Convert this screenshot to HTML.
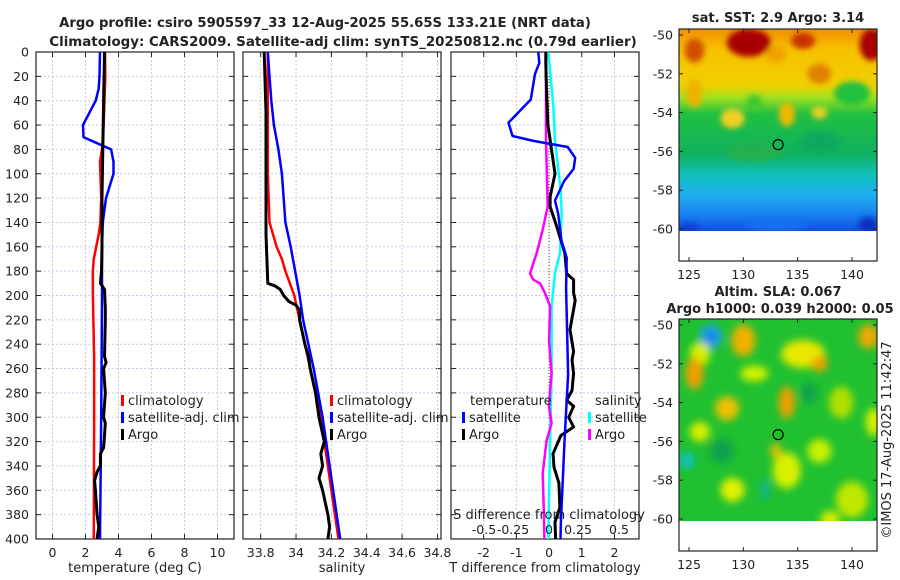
<!DOCTYPE html>
<html><head><meta charset="utf-8"><style>
body{margin:0;background:#fff}
svg{display:block;font-family:"DejaVu Sans","Liberation Sans",sans-serif}
</style></head><body>
<svg id="fig" width="900" height="580" viewBox="0 0 900 580" xmlns="http://www.w3.org/2000/svg">
<defs>
<filter id="blur1" x="-20%" y="-20%" width="140%" height="140%"><feGaussianBlur stdDeviation="3"/></filter>
<filter id="blur2" x="-20%" y="-20%" width="140%" height="140%"><feGaussianBlur stdDeviation="4"/></filter>
<clipPath id="cm1"><rect x="679" y="29" width="198" height="202"/></clipPath>
<clipPath id="cm2"><rect x="679" y="319" width="198" height="202"/></clipPath>
<linearGradient id="sstg" x1="0" y1="0" x2="0" y2="1">
<stop offset="0" stop-color="#f09000"/><stop offset="0.1" stop-color="#f8c000"/>
<stop offset="0.28" stop-color="#f0d000"/><stop offset="0.34" stop-color="#a0e020"/>
<stop offset="0.42" stop-color="#20c040"/><stop offset="0.62" stop-color="#10b060"/>
<stop offset="0.72" stop-color="#10c0b8"/><stop offset="0.82" stop-color="#20b0f0"/>
<stop offset="0.92" stop-color="#1880f0"/><stop offset="1" stop-color="#1050e0"/>
</linearGradient>
</defs>
<g id="root"></g>
</svg>
<script>
const tClimDepth=[0,20,40,60,80,90,100,120,140,150,160,170,180,200,250,300,400];
const tClimVal=[3.18,3.2,3.15,3.1,3.0,2.88,2.9,2.95,2.9,2.8,2.65,2.5,2.44,2.45,2.52,2.52,2.5];
const tSatDepth=[0,20,30,40,60,70,80,90,100,120,140,160,200,300,400];
const tSatVal=[2.88,2.85,2.8,2.62,1.85,1.88,3.55,3.7,3.7,3.24,3.05,3.0,3.0,2.95,2.88];
const tArgoDepth=[0,40,80,120,160,180,190,195,210,220,250,255,260,280,300,305,315,325,330,340,345,352,360,380,390,400];
const tArgoVal=[3.15,3.1,3.05,3.0,3.0,2.97,2.9,3.15,3.2,3.2,3.15,3.25,3.1,3.2,3.1,3.2,3.15,3.1,2.9,2.9,2.7,2.55,2.6,2.7,2.8,2.7];
const sClimDepth=[0,100,140,150,160,170,180,200,220,260,300,350,400];
const sClimVal=[33.84,33.84,33.85,33.87,33.89,33.92,33.94,33.99,34.02,34.08,34.14,34.19,34.24];
const sSatDepth=[0,20,40,60,80,100,140,160,200,220,260,300,400];
const sSatVal=[33.84,33.85,33.86,33.875,33.9,33.92,33.94,33.97,34.02,34.04,34.1,34.15,34.25];
const sArgoDepth=[0,50,100,150,190,192,195,200,205,208,212,220,240,250,260,280,300,320,330,340,350,360,380,390,400];
const sArgoVal=[33.82,33.83,33.83,33.83,33.84,33.88,33.91,33.93,33.96,34.0,34.02,34.02,34.05,34.07,34.08,34.11,34.13,34.16,34.14,34.15,34.13,34.15,34.18,34.19,34.18];
const dTSatDepth=[0,9,18,39,58,69,73,78,87,96,106,122,133,155,169,194,265,320,386,400];
const dTSatVal=[-0.33,-0.3,-0.43,-0.56,-1.24,-1.12,-0.48,0.57,0.8,0.75,0.46,0.18,0.28,0.38,0.54,0.52,0.58,0.47,0.36,0.35];
const dTArgoDepth=[0,9,31,59,72,100,119,127,143,165,182,187,198,204,228,246,253,264,278,286,291,300,308,315,330,341,354,374,386,400];
const dTArgoVal=[-0.1,-0.1,-0.08,-0.04,0.03,0.18,0.03,0.03,0.23,0.48,0.54,0.75,0.75,0.8,0.64,0.75,0.7,0.75,0.7,0.54,0.75,0.6,0.75,0.36,0.12,0.15,0.3,0.33,0.18,0.2];
const dSSatDepth=[0,45,72,113,133,165,182,209,264,319,400];
const dSSatVal=[-0.005,0.033,0.045,0.088,0.096,0.083,0.045,0.02,0.02,0.008,-0.005];
const dSArgoDepth=[0,72,127,147,165,182,187,190,198,209,237,264,278,291,305,319,346,374,400];
const dSArgoVal=[-0.023,-0.023,-0.01,-0.05,-0.093,-0.144,-0.119,-0.068,-0.03,0.008,0.0,0.02,0.008,0.0,0.02,-0.018,-0.048,-0.04,-0.035];
const depthTicks=[0,20,40,60,80,100,120,140,160,180,200,220,240,260,280,300,320,340,360,380,400];
const tTicks=[0,2,4,6,8,10];
const sTicks=[33.8,34,34.2,34.4,34.6,34.8];
const dTTicks=[-2,-1,0,1,2];
const dSTickLabels=["-0.5","-0.25","0","0.25","0.5"];
const dSTickVals=[-0.5,-0.25,0,0.25,0.5];
const latTicks=[-50,-52,-54,-56,-58,-60];
const lonTicks=[125,130,135,140];
const floatLon=133.2, floatLat=-55.65;

const NS="http://www.w3.org/2000/svg";
const root=document.getElementById('root');
function mk(tag,attrs,parent){const e=document.createElementNS(NS,tag);for(const k in attrs)e.setAttribute(k,attrs[k]);(parent||root).appendChild(e);return e;}
function txt(x,y,s,size,anchor,weight,parent){const e=mk('text',{x:x,y:y,'font-size':size,'text-anchor':anchor||'middle','font-weight':weight||'normal',fill:'#222'},parent);e.textContent=s;return e;}
const yTop=52, yBot=539;
function yD(d){return yTop+(d/400)*(yBot-yTop);}
function lin(d0,d1,p0,p1){return v=>p0+(v-d0)/(d1-d0)*(p1-p0);}
const xT=lin(-1,11,36,234), xS=lin(33.7,34.82,243,441), xDT=lin(-3,2.75,451,639), xDS=v=>549+v*132;
const panels=[{x0:36,x1:234,ticks:tTicks,fx:xT,name:'temperature-panel'},{x0:243,x1:441,ticks:sTicks,fx:xS,name:'salinity-panel'},{x0:451,x1:639,ticks:dTTicks,fx:xDT,name:'difference-panel'}];
panels.forEach((p,i)=>{
 const g=mk('g',{});
 
 
 depthTicks.forEach(d=>{const l=mk('line',{x1:p.x0,x2:p.x1,y1:yD(d),y2:yD(d),stroke:'#c4cbe8','stroke-width':1,'stroke-dasharray':'2,2'},g);
  
  mk('line',{x1:p.x0,x2:p.x0+5,y1:yD(d),y2:yD(d),stroke:'#222'},g);mk('line',{x1:p.x1-5,x2:p.x1,y1:yD(d),y2:yD(d),stroke:'#222'},g);});
 p.ticks.forEach(t=>{const x=p.fx(t);const l=mk('line',{x1:x,x2:x,y1:yTop,y2:yBot,stroke:'#d8c4c8','stroke-width':1,'stroke-dasharray':'2,2'},g);
  
  mk('line',{x1:x,x2:x,y1:yBot-5,y2:yBot,stroke:'#222'},g);mk('line',{x1:x,x2:x,y1:yTop,y2:yTop+5,stroke:'#222'},g);
  const tl=txt(x,557,String(t),12.5,'middle','normal',g);});
 const fr=mk('rect',{x:p.x0,y:yTop,width:p.x1-p.x0,height:yBot-yTop,fill:'none',stroke:'#222','stroke-width':1.2},g);
 
});
depthTicks.forEach(d=>{const t=txt(29,yD(d)+4.5,String(d),12.5,'end');});
const zl=mk('line',{x1:xDT(0),x2:xDT(0),y1:yTop,y2:yBot,stroke:'#555','stroke-width':1,'stroke-dasharray':'1,2'});

function series(depths,vals,fx,color,w,name){const pts=depths.map((d,i)=>fx(vals[i]).toFixed(1)+','+yD(d).toFixed(1)).join(' ');
 const e=mk('polyline',{points:pts,fill:'none',stroke:color,'stroke-width':w,'stroke-linejoin':'round'});
 }
series(tClimDepth,tClimVal,xT,'#ff0000',2.5,'temp-climatology-line');
series(tSatDepth,tSatVal,xT,'#0000ff',2.5,'temp-satellite-line');
series(tArgoDepth,tArgoVal,xT,'#000',3,'temp-argo-line');
series(sClimDepth,sClimVal,xS,'#ff0000',2.5,'sal-climatology-line');
series(sSatDepth,sSatVal,xS,'#0000ff',2.5,'sal-satellite-line');
series(sArgoDepth,sArgoVal,xS,'#000',3,'sal-argo-line');
series(dSSatDepth,dSSatVal,xDS,'#00ffff',2.5,'sdiff-satellite-line');
series(dSArgoDepth,dSArgoVal,xDS,'#ff00ff',2.5,'sdiff-argo-line');
series(dTArgoDepth,dTArgoVal,xDT,'#000',3,'tdiff-argo-line');
series(dTSatDepth,dTSatVal,xDT,'#0000ff',2.5,'tdiff-satellite-line');
function legend(x,y,color,label,name){const g=mk('g',{});
 mk('rect',{x:x,y:y-10,width:3,height:11,fill:color},g);txt(x+7,y,label,13,'start','normal',g);}
[['#ff0000','climatology'],['#0000ff','satellite-adj. clim'],['#000','Argo']].forEach((l,i)=>{
 legend(121,405+i*17,l[0],l[1],'temp-legend-entry');legend(330,405+i*17,l[0],l[1],'sal-legend-entry');});
let lt=txt(470,405,'temperature',13,'start');
let ls=txt(595,405,'salinity',13,'start');
legend(462,422,'#0000ff','satellite','tdiff-legend-satellite');legend(462,439,'#000','Argo','tdiff-legend-argo');
legend(588,422,'#00ffff','satellite','sdiff-legend-satellite');legend(588,439,'#ff00ff','Argo','sdiff-legend-argo');
let sdt=txt(549,519,'S difference from climatology',13,'middle');
const sdPos=[484,513,549,578,619];
dSTickLabels.forEach((s,i)=>{const t=txt(sdPos[i],534,s,12.5,'middle');});
[[135,'temperature (deg C)','x-axis-title-temperature'],[342,'salinity','x-axis-title-salinity'],[545,'T difference from climatology','x-axis-title-tdiff']].forEach(a=>{const t=txt(a[0],572,a[1],13,'middle');});
let t1=txt(325,27,'Argo profile: csiro 5905597_33 12-Aug-2025 55.65S 133.21E (NRT data)',13.2,'middle','bold');
let t2=txt(343,46,'Climatology: CARS2009. Satellite-adj clim: synTS_20250812.nc (0.79d earlier)',13.4,'middle','bold');

const lonX=lin(125,140,689,852);
function map(top,clip,blobs,base,name,gradient){
 const g=mk('g',{'clip-path':'url(#'+clip+')'});
 mk('rect',{x:679,y:top,width:198,height:202,fill:gradient||base},g);
 const bg=mk('g',{filter:'url(#'+(gradient?'blur1':'blur2')+')'},g);
 blobs.forEach(b=>mk('ellipse',{cx:lonX(b[0]),cy:top+6+(-50-b[1])*19.4,rx:b[2],ry:b[3],fill:b[4]},bg));
 mk('rect',{x:679,y:top+202,width:198,height:40,fill:'#fff'});
 mk('rect',{x:679,y:top,width:198,height:232,fill:'none',stroke:'#222','stroke-width':1.2});
 latTicks.forEach(l=>{const y=top+6+(-50-l)*19.4;mk('line',{x1:679,x2:683,y1:y,y2:y,stroke:'#222'});mk('line',{x1:873,x2:877,y1:y,y2:y,stroke:'#222'});
  const t=txt(673,y+4.5,String(l),12.5,'end');});
 lonTicks.forEach(l=>{const x=lonX(l);mk('line',{x1:x,x2:x,y1:top+228,y2:top+232,stroke:'#222'});mk('line',{x1:x,x2:x,y1:top,y2:top+4,stroke:'#222'});
  const t=txt(x,top+250,String(l),12.5,'middle');});
 const c=mk('circle',{cx:lonX(floatLon),cy:top+6+(-50-floatLat)*19.4,r:5,fill:'none',stroke:'#000','stroke-width':1.2});
 
}
const sstBlobs=[[130.5,-50.4,22,14,'#a80000'],[141.8,-50.5,12,16,'#a80000'],[135.5,-50.3,12,8,'#c83000'],[125.5,-50.8,10,12,'#d05000'],
[133,-51,10,8,'#f0a000'],[137,-52,12,10,'#e08000'],[134,-54.1,8,12,'#f0b800'],[129,-54.3,12,10,'#f0d020'],[137,-54,8,6,'#f0d020'],[125.5,-53,8,14,'#f0b000'],
[140,-53,18,12,'#20c040'],[131,-53.5,8,8,'#40c830'],[131,-56,30,10,'#20b050'],[137,-55.5,20,10,'#10a860'],[125,-60,10,6,'#1040d0'],[141.5,-59.8,10,8,'#1030c0'],[133,-59.8,30,6,'#1870f0']];
map(29,'cm1',sstBlobs,null,'sst-map','url(#sstg)');
const slaBlobs=[[127,-50.6,11,12,'#20a0f0'],[127,-50.6,5,6,'#1080e0'],[130,-50.8,12,16,'#f0b000'],[126,-51.5,10,12,'#d8f000'],[135.5,-51.5,22,14,'#e8e800'],[137,-52,8,8,'#f0a000'],[141.5,-50.6,10,12,'#f0a800'],
[125.5,-52.5,9,16,'#f0a000'],[128.5,-54.3,12,12,'#f0c000'],[134,-54,8,16,'#f0a000'],[126,-55.5,10,10,'#d8f000'],[124.8,-57,8,8,'#10c0c0'],
[129,-58.5,12,12,'#e0f000'],[134,-57.5,14,18,'#d8f000'],[140,-59,16,18,'#c0e800'],[139,-54,12,16,'#b0e000'],[131,-52.5,14,8,'#d0f000'],
[137,-56.5,12,12,'#c8f000'],[133,-56.5,5,8,'#f0c000'],[132,-58.5,4,10,'#10b0a0'],[128,-56.5,12,12,'#10a050'],[136,-53.5,8,10,'#10a050'],[142,-55,8,14,'#d8f000'],[138,-60,10,8,'#d8f000']];
map(319,'cm2',slaBlobs,'#20c030','sla-map',null);
let m1=txt(778,22,'sat. SST: 2.9 Argo: 3.14',13,'middle','bold');
let m2=txt(778,296,'Altim. SLA: 0.067',13,'middle','bold');
let m3=txt(780,313,'Argo h1000: 0.039 h2000: 0.05',13,'middle','bold');
let cp=txt(0,0,'©IMOS 17-Aug-2025 11:42:47',13,'middle');cp.setAttribute('transform','translate(891,440) rotate(-90)');

</script>
</body></html>
